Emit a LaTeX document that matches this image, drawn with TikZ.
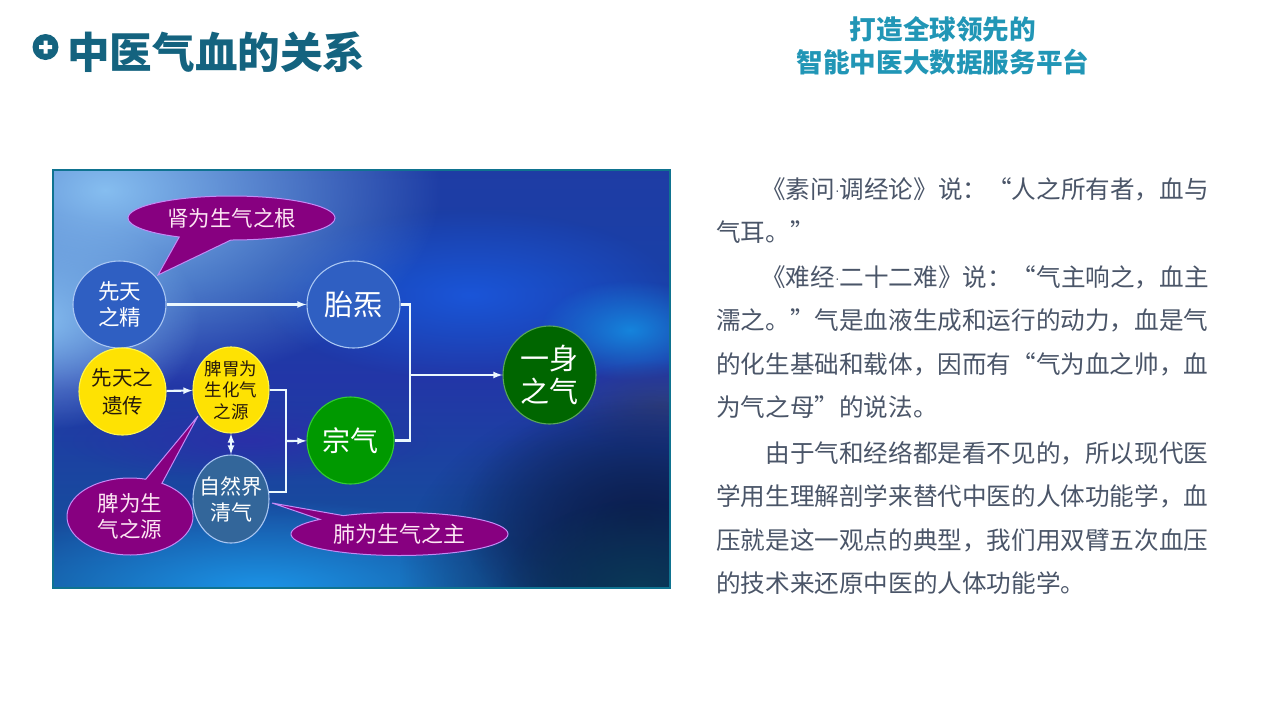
\documentclass[tikz,border=0pt]{standalone}
\usepackage{fontspec}
\setmainfont{Noto Sans CJK SC}
\newfontfamily\dotfont{Liberation Sans}
\usepackage{tikz}
\usetikzlibrary{shapes,arrows}
\usetikzlibrary{fadings}
\definecolor{titleblue}{HTML}{14637F}
\definecolor{headblue}{HTML}{2196B6}
\definecolor{bodygray}{HTML}{4A5568}
\definecolor{frameteal}{HTML}{0F7390}
\definecolor{ringblue}{HTML}{A9C6F2}
\definecolor{bubblepurple}{HTML}{870080}
\definecolor{paleblue}{HTML}{86BEF0}
\definecolor{discblue}{HTML}{2F5FC2}
\definecolor{naturefill}{HTML}{33669A}
\definecolor{navy}{HTML}{0C1E4E}
\definecolor{teal}{HTML}{0A3A58}
\definecolor{slate}{HTML}{2E3E80}
\definecolor{deepblue}{HTML}{2A30A8}
\definecolor{royalblue}{HTML}{1A55D8}
\definecolor{brightblue}{HTML}{1584DC}
\definecolor{skylight}{HTML}{1C94E8}
\pgfdeclareverticalshading{skyshade}{100bp}{
  color(0bp)=(rgb:red,0.12;green,0.56;blue,0.89);
  color(18bp)=(rgb:red,0.11;green,0.55;blue,0.89);
  color(35bp)=(rgb:red,0.12;green,0.37;blue,0.80);
  color(50bp)=(rgb:red,0.14;green,0.22;blue,0.68);
  color(62bp)=(rgb:red,0.12;green,0.31;blue,0.81);
  color(80bp)=(rgb:red,0.15;green,0.27;blue,0.75);
  color(100bp)=(rgb:red,0.19;green,0.27;blue,0.71)}
\tikzfading[name=softblob, inner color=transparent!0, outer color=transparent!100]
\newcommand{\thindot}{\raisebox{3pt}{\dotfont\fontsize{14}{14}\selectfont ·}}

\begin{document}
\begin{tikzpicture}[x=1pt,y=-1pt,
  blob/.style={fill=#1, path fading=softblob},
  disc/.style={draw=ringblue, line width=1.1pt, ellipse, inner sep=0pt, align=center, text=white},
  yellowdisc/.style={disc, fill=yellow!85!orange, draw=yellow!70!white, text=black!80!brown},
  bubble/.style={ellipse callout, draw=ringblue!70!magenta, line width=1pt, fill=bubblepurple, inner sep=0pt, align=center, text=white!90!magenta},
  link/.style={draw=white!92!cyan, line width=2.1pt},
  linkarrow/.style={link, -latex},
  bodytext/.style={anchor=north west, align=left, text=bodygray, inner sep=0pt, font=\fontsize{24.6}{43.5}\selectfont}
  ]
  \useasboundingbox (0,0) rectangle (1267,713);

  % header
  \fill[titleblue] (45.5,47) circle (13);
  \fill[white] (39,45) rectangle (52,49) (43.5,40.5) rectangle (47.5,53.5);
  \node[anchor=west, font=\fontsize{42.6}{46}\selectfont\bfseries, text=titleblue, inner sep=0pt] (title) at (67,52) {中医气血的关系};
  \node[align=center, font=\fontsize{26.6}{33}\selectfont\bfseries, text=headblue] (slogan) at (943,46) {打造全球领先的\\智能中医大数据服务平台};

  % picture background
  \begin{scope}
    \clip (53,170) rectangle (670,588);
    \shade[shading=skyshade] (53,170) rectangle (670,588);
    \fill[blob=royalblue] (260,210) rectangle (680,380);
    \fill[blob=paleblue] (-230,-10) rectangle (440,390);
    \fill[blob=paleblue] (-130,210) rectangle (200,430);
    \fill[blob=brightblue] (540,280) rectangle (720,380);
    \fill[blob=skylight] (-40,500) rectangle (560,680);
    \fill[blob=deepblue] (60,400) rectangle (440,480);
    \fill[blob=slate] (560,360) rectangle (760,450);
    \fill[blob=navy] (400,390) rectangle (880,760);
    \fill[blob=navy] (460,400) rectangle (820,640);
    \fill[blob=teal] (500,500) rectangle (780,680);
  \end{scope}
  \draw[frameteal, line width=2.2pt] (53,170) rectangle (670,588);

  % speech bubbles
  \node[bubble, minimum width=207pt, minimum height=44pt, callout absolute pointer={(158,275)}, callout pointer arc=30, font=\fontsize{21.5}{24}\selectfont] (kidney) at (231.5,218) {肾为生气之根};
  \node[bubble, minimum width=126pt, minimum height=77pt, callout absolute pointer={(198,416)}, callout pointer arc=16, font=\fontsize{21.5}{26}\selectfont] (spleen) at (130,516.5) {脾为生\\气之源};
  \node[bubble, minimum width=217pt, minimum height=43pt, callout absolute pointer={(272,503)}, callout pointer arc=16, font=\fontsize{22}{24}\selectfont] (lung) at (399.5,534) {肺为生气之主};

  % circles
  \node[disc, fill=discblue, minimum width=93pt, minimum height=87pt, font=\fontsize{21.5}{26}\selectfont] (jing) at (119.5,304.5) {先天\\之精};
  \node[disc, fill=discblue, minimum width=93pt, minimum height=87pt, font=\fontsize{29}{32}\selectfont] (embryo) at (353.5,304.5) {胎炁};
  \node[yellowdisc, minimum width=87pt, minimum height=87pt, font=\fontsize{20.5}{28}\selectfont] (gene) at (122.5,391.5) {先天之\\遗传};
  \node[yellowdisc, minimum width=76pt, minimum height=86pt, font=\fontsize{17.5}{21.5}\selectfont] (stomach) at (231,390) {脾胃为\\生化气\\之源};
  \node[disc, draw=green!60!gray, fill=green!60!black, minimum width=87pt, minimum height=87pt, font=\fontsize{28}{32}\selectfont] (zong) at (350.5,440.5) {宗气};
  \node[disc, inner xsep=-7pt, fill=naturefill, minimum width=76pt, minimum height=88pt, font=\fontsize{21}{26}\selectfont] (nature) at (231,499) {自然界\\清气};
  \node[disc, draw=green!30!gray, fill=green!40!black, minimum width=93pt, minimum height=98pt, font=\fontsize{29}{33}\selectfont] (body) at (549.5,375) {一身\\之气};

  % connectors
  \coordinate (midleft) at (286,441);
  \coordinate (midright) at (410,375);
  \draw[linkarrow] (jing) -- (embryo);
  \draw[linkarrow] (gene) -- (stomach);
  \draw[linkarrow, latex-latex] (stomach) -- (nature);
  \draw[link] (stomach.east) -| (midleft);
  \draw[link] (nature.10) -| (midleft);
  \draw[linkarrow] (midleft) -- (zong);
  \draw[link] (embryo.east) -| (midright);
  \draw[link] (zong.east) -| (midright);
  \draw[linkarrow] (midright) -- (body);

  % right column
  \node[bodytext] (para1) at (716,177) {\hspace*{45pt}《素问\thindot 调经论》说：“人之所有者，血与\\气耳。”};
  \node[bodytext] (para2) at (716,265) {\hspace*{45pt}《难经\thindot 二十二难》说：“气主响之，血主\\濡之。”气是血液生成和运行的动力，血是气\\的化生基础和载体，因而有“气为血之帅，血\\为气之母”的说法。};
  \node[bodytext] (para3) at (716,441) {\hspace*{49.2pt}由于气和经络都是看不见的，所以现代医\\学用生理解剖学来替代中医的人体功能学，血\\压就是这一观点的典型，我们用双臂五次血压\\的技术来还原中医的人体功能学。};
\end{tikzpicture}
\end{document}
